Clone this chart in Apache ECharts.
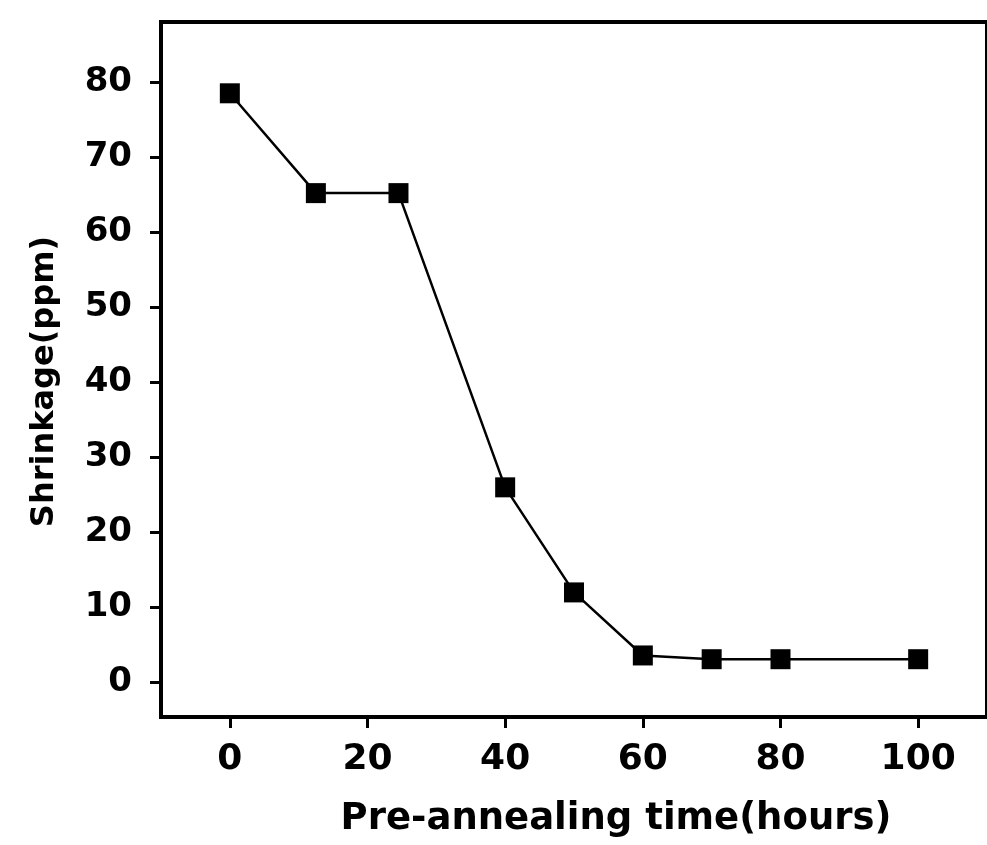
<!DOCTYPE html>
<html>
<head>
<meta charset="utf-8">
<script src="https://cdn.jsdelivr.net/npm/echarts@6/dist/echarts.min.js"></script>
<style>
  html, body { margin: 0; padding: 0; background: #fff; }
  #chart { width: 987px; height: 845px; }
</style>
</head>
<body>
<div id="chart"></div>
<script>
// pre-annealing time (hours) vs shrinkage (ppm)
var hours = [0, 12.5, 24.5, 40, 50, 60, 70, 80, 100]
var shrinkage = [78.5, 65.2, 65.2, 26, 12, 3.6, 3.1, 3.1, 3.1]
var xTicks = [0, 20, 40, 60, 80, 100]
var yTicks = [0, 10, 20, 30, 40, 50, 60, 70, 80]

var points = hours.map(function (h, i) { return [h, shrinkage[i]] })

var font = {
  color: '#000',
  fontFamily: 'DejaVu Sans',
  fontWeight: 'bold'
}

var chart = echarts.init(document.getElementById('chart'))
chart.setOption({
  backgroundColor: '#fff',
  animation: false,
  grid: {
    left: 161,
    top: 22,
    right: -6,
    bottom: 128,
    show: true,
    borderColor: '#000',
    borderWidth: 4,
    containLabel: false
  },
  xAxis: {
    type: 'value',
    min: -10,
    max: 110,
    name: 'Pre-annealing time(hours)',
    nameLocation: 'middle',
    nameGap: 84,
    nameTextStyle: Object.assign({}, font, { fontSize: 37, padding: [0, 0, 0, 84] }),
    axisLine: { show: true, onZero: false, lineStyle: { color: '#000', width: 4 } },
    axisTick: { show: true, length: 11, customValues: xTicks, lineStyle: { color: '#000', width: 3 } },
    axisLabel: Object.assign({}, font, { fontSize: 36, margin: 25, customValues: xTicks }),
    splitLine: { show: false }
  },
  yAxis: {
    type: 'value',
    min: -4.6,
    max: 88,
    name: 'Shrinkage(ppm)',
    nameLocation: 'middle',
    nameGap: 100,
    nameTextStyle: Object.assign({}, font, { fontSize: 32, padding: [0, 24, 0, 0] }),
    axisLine: { show: true, onZero: false, lineStyle: { color: '#000', width: 4 } },
    axisTick: { show: true, length: 11, customValues: yTicks, lineStyle: { color: '#000', width: 3 } },
    axisLabel: Object.assign({}, font, { fontSize: 34, margin: 29, customValues: yTicks }),
    splitLine: { show: false }
  },
  series: [
    {
      type: 'line',
      data: points,
      symbol: 'rect',
      symbolSize: 20,
      itemStyle: { color: '#000' },
      lineStyle: { color: '#000', width: 2.5 }
    }
  ]
})
</script>
</body>
</html>
